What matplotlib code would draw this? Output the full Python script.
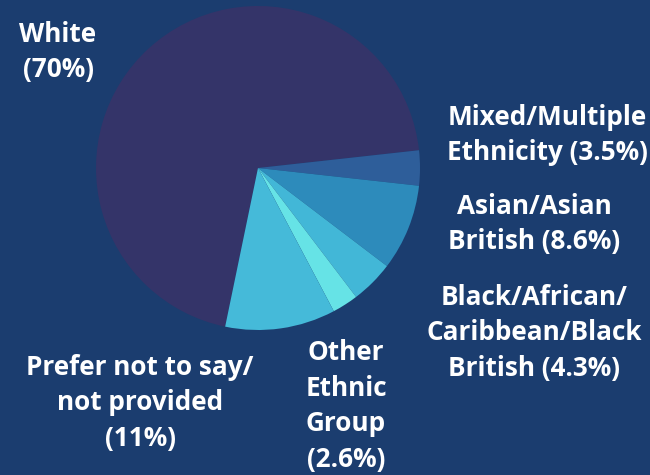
import matplotlib
matplotlib.use("Agg")
import matplotlib.pyplot as plt

# Ethnicity breakdown (clockwise from the bottom-left edge of "White")
groups = ["White", "Mixed/Multiple Ethnicity", "Asian/Asian British",
          "Black/African/Caribbean/Black British", "Other Ethnic Group",
          "Prefer not to say/not provided"]
shares = [70, 3.5, 8.6, 4.3, 2.6, 11]
label_texts = [
    "White\n(70%)",
    "Mixed/Multiple\nEthnicity (3.5%)",
    "Asian/Asian\nBritish (8.6%)",
    "Black/African/\nCaribbean/Black\nBritish (4.3%)",
    "Other\nEthnic\nGroup\n(2.6%)",
    "Prefer not to say/\nnot provided\n(11%)",
]
colors = ["#343469", "#2e5e9a", "#2d8bbb", "#42b7d7", "#66e3e6", "#45bad9"]

bg = "#1b3d6f"
W, H = 650, 475
cx, cy, r = 258, 168, 162  # pie centre / radius in pixels

fig = plt.figure(figsize=(W / 100, H / 100), dpi=100, facecolor=bg)
ax = fig.add_axes([0, 0, 1, 1])
ax.set_facecolor(bg)
ax.axis("off")

ax.pie(shares, colors=colors, startangle=258.3, counterclock=False,
       radius=1, center=(0, 0), wedgeprops=dict(linewidth=0))
ax.set_xlim(-cx / r, (W - cx) / r)
ax.set_ylim(-(H - cy) / r, cy / r)
ax.set_aspect("equal")

# label block centres in pixels
label_pos = [(58, 52), (547, 135), (534, 224), (534, 333), (346, 406), (140, 403)]
for txt, (px, py) in zip(label_texts, label_pos):
    ax.text((px - cx) / r, (cy - py) / r, txt, ha="center", va="center",
            multialignment="center", color="white", fontsize=18.8,
            fontweight="bold", family="Open Sans", linespacing=1.42)

fig.savefig("out.png", dpi=100, facecolor=bg)
